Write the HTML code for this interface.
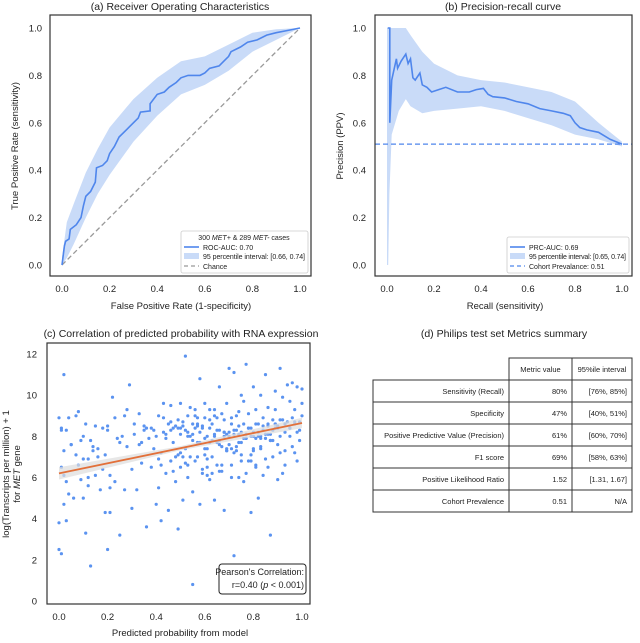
<!DOCTYPE html>
<html><head><meta charset="utf-8"><style>
body{margin:0;background:#fff;font-family:"Liberation Sans",sans-serif;}
svg text{font-family:"Liberation Sans",sans-serif;fill:#222;}
</style></head><body>
<svg id="fig" width="640" height="638" viewBox="0 0 640 638" xmlns="http://www.w3.org/2000/svg"></svg>
<script>
// ROC data
const rocFpr=[0,0.01,0.015,0.03,0.035,0.06,0.08,0.09,0.1,0.12,0.14,0.145,0.17,0.19,0.2,0.22,0.24,0.27,0.3,0.32,0.33,0.37,0.37,0.4,0.43,0.45,0.48,0.5,0.53,0.58,0.6,0.62,0.66,0.68,0.7,0.71,0.75,0.78,0.82,0.86,0.9,0.95,1];
const rocTpr=[0,0.08,0.1,0.11,0.15,0.17,0.2,0.25,0.29,0.31,0.35,0.41,0.42,0.44,0.47,0.5,0.54,0.57,0.6,0.62,0.645,0.65,0.68,0.72,0.73,0.75,0.77,0.79,0.8,0.8,0.81,0.83,0.84,0.86,0.88,0.9,0.92,0.94,0.95,0.97,0.98,0.99,1];
const rocBandX=[0,0.02,0.05,0.1,0.15,0.2,0.3,0.4,0.5,0.6,0.7,0.8,0.9,1];
const rocBandLo=[0,0.03,0.09,0.2,0.3,0.38,0.52,0.63,0.72,0.76,0.82,0.9,0.95,1];
const rocBandHi=[0.03,0.18,0.26,0.39,0.49,0.58,0.7,0.79,0.86,0.88,0.93,0.98,0.995,1];
// PR data
const prRecall=[0.003,0.012,0.012,0.02,0.04,0.045,0.06,0.08,0.09,0.1,0.11,0.12,0.14,0.15,0.17,0.19,0.22,0.25,0.3,0.35,0.38,0.41,0.43,0.45,0.5,0.55,0.6,0.65,0.7,0.75,0.78,0.8,0.82,0.85,0.9,0.95,1.0];
const prPrecision=[1.0,1.0,0.6,0.78,0.87,0.83,0.86,0.89,0.85,0.87,0.79,0.78,0.81,0.76,0.75,0.73,0.74,0.75,0.73,0.73,0.74,0.745,0.72,0.71,0.705,0.69,0.68,0.66,0.65,0.64,0.63,0.6,0.58,0.57,0.56,0.53,0.51];
const prBandX=[0,0.005,0.01,0.02,0.05,0.08,0.1,0.15,0.2,0.3,0.4,0.5,0.6,0.7,0.8,0.9,1.0];
const prBandLo=[0,0.0,0.3,0.55,0.65,0.7,0.67,0.64,0.65,0.66,0.67,0.65,0.62,0.59,0.55,0.53,0.5];
const prBandHi=[1,1,1,1,1,1,0.97,0.9,0.85,0.8,0.78,0.77,0.75,0.73,0.69,0.6,0.52];
const prevalence=0.51;
// scatter data
const scX=[0.0,0.0,0.0,0.01,0.01,0.01,0.02,0.02,0.02,0.02,0.03,0.03,0.04,0.04,0.05,0.06,0.07,0.08,0.09,0.09,0.1,0.1,0.11,0.11,0.12,0.12,0.13,0.14,0.15,0.15,0.16,0.17,0.18,0.19,0.19,0.2,0.2,0.21,0.21,0.22,0.23,0.24,0.25,0.26,0.27,0.28,0.29,0.3,0.3,0.31,0.32,0.33,0.33,0.34,0.35,0.36,0.37,0.38,0.38,0.39,0.4,0.4,0.41,0.41,0.42,0.42,0.43,0.44,0.44,0.45,0.45,0.46,0.46,0.47,0.47,0.48,0.48,0.49,0.49,0.5,0.5,0.5,0.51,0.51,0.52,0.52,0.53,0.53,0.54,0.54,0.55,0.55,0.55,0.56,0.56,0.57,0.57,0.58,0.58,0.59,0.59,0.6,0.6,0.6,0.61,0.61,0.62,0.62,0.63,0.63,0.64,0.64,0.65,0.65,0.66,0.66,0.67,0.67,0.68,0.68,0.69,0.69,0.7,0.7,0.7,0.71,0.71,0.72,0.72,0.73,0.73,0.74,0.74,0.75,0.75,0.76,0.76,0.77,0.77,0.78,0.78,0.79,0.79,0.8,0.8,0.8,0.81,0.81,0.82,0.82,0.83,0.83,0.84,0.84,0.85,0.85,0.86,0.86,0.87,0.87,0.88,0.88,0.89,0.89,0.9,0.9,0.9,0.91,0.91,0.92,0.92,0.93,0.93,0.94,0.95,0.95,0.96,0.96,0.97,0.97,0.98,0.98,0.99,0.99,1.0,1.0,0.53,0.57,0.64,0.72,0.79,0.46,0.5,0.55,0.61,0.68,0.75,0.83,0.35,0.43,0.58,0.66,0.74,0.81,0.89,0.97,0.08,0.13,0.27,0.52,0.56,0.71,0.12,0.2,0.21,0.42,0.51,0.62,0.69,0.77,0.86,
0.01,0.03,0.05,0.07,0.1,0.14,0.16,0.18,0.23,0.25,0.28,0.31,0.34,0.36,0.39,0.41,0.43,0.44,0.46,0.48,0.49,0.5,0.52,0.53,0.54,0.56,0.57,0.58,0.59,0.6,0.61,0.62,0.63,0.64,0.65,0.66,0.67,0.68,0.69,0.7,0.71,0.72,0.73,0.74,0.75,0.76,0.77,0.78,0.79,0.8,0.81,0.82,0.83,0.84,0.85,0.86,0.87,0.88,0.89,0.9,0.91,0.92,0.93,0.94,0.95,0.96,0.97,0.98,0.99,1.0,
0.47,0.49,0.51,0.53,0.55,0.57,0.59,0.61,0.63,0.65,0.67,0.69,0.71,0.73,0.75,0.77,0.79,0.81,0.83,0.85,0.87,0.89,0.91,0.93,0.95,0.6,0.62,0.64,0.66,0.68,0.7,0.72,0.74,0.76,0.78,0.8,0.82,0.84,0.86,0.88];
const scY=[2.5,3.8,8.9,6.5,8.4,2.3,11.0,7.3,4.7,6.1,3.9,8.3,5.2,8.9,7.6,5.0,7.1,9.2,5.9,7.8,5.0,8.0,8.6,3.3,6.9,5.6,1.7,7.5,8.5,6.1,7.0,5.4,8.4,4.3,7.1,8.5,2.5,6.1,4.3,9.9,5.8,7.9,3.2,8.0,9.0,7.5,10.5,6.4,4.5,8.6,5.4,9.1,7.6,6.7,8.3,3.6,7.9,8.4,6.5,7.4,8.0,4.7,5.5,9.0,7.2,3.9,9.6,6.2,8.1,8.6,4.4,6.8,9.5,7.7,6.3,8.5,5.8,3.5,7.1,8.4,6.5,9.6,8.7,4.9,7.4,11.9,8.2,6.0,9.4,7.0,0.8,8.1,5.3,9.3,6.8,8.6,7.7,4.7,10.8,8.4,6.2,9.6,7.4,8.9,6.5,8.0,9.3,5.9,8.6,7.0,9.0,4.9,8.3,6.6,10.4,7.8,9.1,6.3,8.2,4.4,9.6,7.4,11.3,8.0,0.4,8.6,6.6,11.1,2.2,9.0,7.3,8.5,6.0,10.0,7.7,9.7,5.8,11.5,8.1,6.8,9.1,4.3,8.4,10.4,7.3,8.0,6.5,9.3,5.0,8.6,7.5,10.0,6.1,8.9,7.9,11.0,6.5,9.4,8.1,3.2,8.8,7.0,10.2,9.3,5.9,8.5,7.6,11.3,8.8,6.2,9.9,7.3,8.6,10.5,8.0,9.7,7.5,10.6,8.7,9.3,10.4,6.8,8.3,7.8,10.3,9.6,8.0,8.5,9.3,7.2,6.8,8.7,7.2,7.8,6.1,8.2,7.1,8.0,8.5,8.9,7.7,6.3,9.2,7.9,8.4,7.2,6.6,7.8,5.4,6.7,9.0,7.4,6.0,8.3,5.5,6.6,7.0,8.8,7.3,6.2,8.1,8.3,5.8,7.6,9.0,6.9,7.3,
7.4,6.4,8.9,7.7,9.3,8.1,7.7,8.4,8.3,6.9,8.2,7.9,8.3,7.0,8.4,8.1,8.3,6.6,8.0,8.4,7.0,8.2,8.5,7.9,7.4,8.4,7.8,8.0,8.9,8.3,7.5,8.8,8.1,7.6,8.9,8.1,8.3,7.7,8.2,8.6,7.9,8.4,8.0,7.4,8.6,8.2,7.9,8.5,8.1,8.6,7.8,8.3,8.6,8.4,8.0,8.8,8.2,8.7,8.4,8.9,8.6,8.2,8.7,9.0,8.4,8.8,8.5,9.0,8.6,8.9,
6.4,6.9,6.2,7.7,6.6,7.3,6.0,7.5,6.8,7.9,7.1,6.6,7.4,6.9,7.8,8.6,7.2,6.6,8.4,7.1,7.7,8.1,7.6,8.0,8.2,8.3,8.1,7.9,8.4,8.2,8.0,8.3,8.5,7.8,8.6,8.3,8.4,8.7,8.5,8.8];
const regX=[0,1];
const regY=[6.2,8.65];
// table data
const tblMetrics=["Sensitivity (Recall)","Specificity","Positive Predictive Value (Precision)","F1 score","Positive Likelihood Ratio","Cohort Prevalence"];
const tblValues=["80%","47%","61%","69%","1.52","0.51"];
const tblIntervals=["[76%, 85%]","[40%, 51%]","[60%, 70%]","[58%, 63%]","[1.31, 1.67]","N/A"];

const NS="http://www.w3.org/2000/svg";
const svg=document.getElementById('fig');
function el(tag,attrs,parent,txt){const e=document.createElementNS(NS,tag);for(const k in attrs)e.setAttribute(k,attrs[k]);if(txt!==undefined)e.textContent=txt;(parent||svg).appendChild(e);return e;}
function lin(d0,d1,p0,p1){return v=>p0+(v-d0)*(p1-p0)/(d1-d0);}
function poly(xs,ys,sx,sy){return xs.map((v,i)=>sx(v).toFixed(1)+','+sy(ys[i]).toFixed(1)).join(' ');}
function bandPts(xs,lo,hi,sx,sy){let a=xs.map((v,i)=>sx(v).toFixed(1)+','+sy(hi[i]).toFixed(1));let b=xs.map((v,i)=>sx(v).toFixed(1)+','+sy(lo[i]).toFixed(1)).reverse();return a.concat(b).join(' ');}
const BLUE='#4f86ec',BAND='#c9dbf8';

function axesFrame(g,x0,y0,x1,y1){const r=el('rect',{x:x0,y:y0,width:x1-x0,height:y1-y0,fill:'none',stroke:'#333','stroke-width':1.2},g);}
function xTicks(g,vals,sx,y,fmt){vals.forEach(v=>{const t=el('text',{x:sx(v),y:y,'font-size':9.5,'text-anchor':'middle'},g,fmt(v));});}
function yTicks(g,vals,sy,x,fmt){vals.forEach(v=>{const t=el('text',{x:x,y:sy(v)+3.5,'font-size':9.5,'text-anchor':'end'},g,fmt(v));});}
const f1=v=>v.toFixed(1);
const ticks01=[0,0.2,0.4,0.6,0.8,1.0];

// Panel A
(function(){
const g=el('g',{});
const sx=lin(0,1,62,300),sy=lin(0,1,265,28);
const band=el('polygon',{points:bandPts(rocBandX,rocBandLo,rocBandHi,sx,sy),fill:BAND},g);
const ch=el('line',{x1:sx(0),y1:sy(0),x2:sx(1),y2:sy(1),stroke:'#999','stroke-width':1.3,'stroke-dasharray':'5,3'},g);
const c=el('polyline',{points:poly(rocFpr,rocTpr,sx,sy),fill:'none',stroke:BLUE,'stroke-width':1.6},g);
axesFrame(g,50,15,311,276);
xTicks(g,ticks01,sx,292,f1);yTicks(g,ticks01,sy,42,f1);
let t=el('text',{x:180,y:10,'font-size':10.5,'text-anchor':'middle'},g,'(a) Receiver Operating Characteristics');
t=el('text',{x:181,y:309,'font-size':9.5,'text-anchor':'middle'},g,'False Positive Rate (1-specificity)');
t=el('text',{x:0,y:0,'font-size':9.5,'text-anchor':'middle',transform:'translate(18,146) rotate(-90)'},g,'True Positive Rate (sensitivity)');
const lg=el('g',{},g);
el('rect',{x:181,y:231,width:127,height:42,fill:'#fff',stroke:'#ccc','stroke-width':0.8,rx:2},lg);
el('text',{x:244,y:240,'font-size':7,'text-anchor':'middle'},lg).innerHTML='300 <tspan font-style="italic">MET+</tspan> &amp; 289 <tspan font-style="italic">MET-</tspan> cases';
el('line',{x1:184,y1:247,x2:199,y2:247,stroke:BLUE,'stroke-width':1.6},lg);
el('text',{x:203,y:250,'font-size':7},lg,'ROC-AUC: 0.70');
el('rect',{x:184,y:253,width:15,height:6,fill:BAND},lg);
el('text',{x:203,y:259,'font-size':7,textLength:102},lg,'95 percentile interval: [0.66, 0.74]');
el('line',{x1:184,y1:266,x2:199,y2:266,stroke:'#999','stroke-width':1.3,'stroke-dasharray':'4,3'},lg);
el('text',{x:203,y:269,'font-size':7},lg,'Chance');
})();

// Panel B
(function(){
const g=el('g',{});
const sx=lin(0,1,387,622),sy=lin(0,1,265,28);
const band=el('polygon',{points:bandPts(prBandX,prBandLo,prBandHi,sx,sy),fill:BAND},g);
const pv=el('line',{x1:375,y1:sy(prevalence),x2:632,y2:sy(prevalence),stroke:BLUE,'stroke-width':1.3,'stroke-dasharray':'5,3'},g);
const c=el('polyline',{points:poly(prRecall,prPrecision,sx,sy),fill:'none',stroke:BLUE,'stroke-width':1.6},g);
axesFrame(g,375,15,632,276);
xTicks(g,ticks01,sx,292,f1);yTicks(g,ticks01,sy,366,f1);
let t=el('text',{x:503,y:10,'font-size':10.5,'text-anchor':'middle'},g,'(b) Precision-recall curve');
t=el('text',{x:505,y:309,'font-size':9.5,'text-anchor':'middle'},g,'Recall (sensitivity)');
t=el('text',{x:0,y:0,'font-size':9.5,'text-anchor':'middle',transform:'translate(343,146) rotate(-90)'},g,'Precision (PPV)');
const lg=el('g',{},g);
el('rect',{x:507,y:237,width:122,height:36,fill:'#fff',stroke:'#ccc','stroke-width':0.8,rx:2},lg);
el('line',{x1:510,y1:247,x2:525,y2:247,stroke:BLUE,'stroke-width':1.6},lg);
el('text',{x:529,y:250,'font-size':7},lg,'PRC-AUC: 0.69');
el('rect',{x:510,y:253,width:15,height:6,fill:BAND},lg);
el('text',{x:529,y:259,'font-size':7,textLength:97},lg,'95 percentile interval: [0.65, 0.74]');
el('line',{x1:510,y1:266,x2:525,y2:266,stroke:BLUE,'stroke-width':1.3,'stroke-dasharray':'4,3'},lg);
el('text',{x:529,y:269,'font-size':7},lg,'Cohort Prevalance: 0.51');
})();

// Panel C
(function(){
const g=el('g',{});
const sx=lin(0,1,59,302),sy=lin(0,12,601,354);
const pts=el('g',{},g);
scX.forEach((x,i)=>{const c=el('circle',{cx:sx(x).toFixed(1),cy:sy(scY[i]).toFixed(1),r:1.6,fill:'#5b93f0'},pts);});
const ci=el('polygon',{points:[sx(0)+','+sy(regY[0]+0.3),sx(0.5)+','+sy((regY[0]+regY[1])/2+0.1),sx(1)+','+sy(regY[1]+0.25),sx(1)+','+sy(regY[1]-0.25),sx(0.5)+','+sy((regY[0]+regY[1])/2-0.1),sx(0)+','+sy(regY[0]-0.3)].join(' '),fill:'#ddd',opacity:0.7},g);
const rl=el('line',{x1:sx(regX[0]),y1:sy(regY[0]),x2:sx(regX[1]),y2:sy(regY[1]),stroke:'#e2703a','stroke-width':1.8},g);
axesFrame(g,47,343,310,604);
xTicks(g,ticks01,sx,620,f1);yTicks(g,[0,2,4,6,8,10,12],sy,37,v=>String(v));
let t=el('text',{x:181,y:337,'font-size':10.5,'text-anchor':'middle'},g,'(c) Correlation of predicted probability with RNA expression');
t=el('text',{x:180,y:636,'font-size':9.5,'text-anchor':'middle'},g,'Predicted probability from model');
t=el('text',{x:0,y:0,'font-size':9.5,'text-anchor':'middle',transform:'translate(9,474) rotate(-90)'},g,'log(Transcripts per million) + 1');
t=el('text',{x:0,y:0,'font-size':9.5,'text-anchor':'middle',transform:'translate(20,474) rotate(-90)'},g);t.innerHTML='for <tspan font-style="italic">MET</tspan> gene';
const bx=el('g',{},g);
el('rect',{x:219,y:564,width:87,height:30,fill:'#fff',stroke:'#222','stroke-width':1,rx:3},bx);
el('text',{x:304,y:575,'font-size':9,'text-anchor':'end'},bx,"Pearson's Correlation:");
el('text',{x:304,y:588,'font-size':9,'text-anchor':'end'},bx).innerHTML='r=0.40 (<tspan font-style="italic">p</tspan> &lt; 0.001)';
})();

// Panel D
(function(){
const g=el('g',{});
let t=el('text',{x:504,y:337,'font-size':10.5,'text-anchor':'middle'},g,'(d) Philips test set Metrics summary');
const L=373,C1=509,C2=572,R=632,T=358,H=22;
const hdr=el('g',{},g);
el('rect',{x:C1,y:T,width:R-C1,height:H,fill:'#fff',stroke:'#333','stroke-width':1},hdr);
el('line',{x1:C2,y1:T,x2:C2,y2:T+H,stroke:'#333','stroke-width':1},hdr);
el('text',{x:(C1+C2)/2,y:T+14,'font-size':7.5,'text-anchor':'middle'},hdr,'Metric value');
el('text',{x:(C2+R)/2,y:T+14,'font-size':7.5,'text-anchor':'middle'},hdr,'95%ile interval');
tblMetrics.forEach((m,i)=>{const y=T+H*(i+1);
const row=el('g',{},g);
el('rect',{x:L,y:y,width:R-L,height:H,fill:'#fff',stroke:'#333','stroke-width':1},row);
el('line',{x1:C1,y1:y,x2:C1,y2:y+H,stroke:'#333','stroke-width':1},row);
el('line',{x1:C2,y1:y,x2:C2,y2:y+H,stroke:'#333','stroke-width':1},row);
el('text',{x:C1-5,y:y+14,'font-size':7.5,'text-anchor':'end'},row,m);
el('text',{x:C2-5,y:y+14,'font-size':7.5,'text-anchor':'end'},row,tblValues[i]);
el('text',{x:R-5,y:y+14,'font-size':7.5,'text-anchor':'end'},row,tblIntervals[i]);
});
})();
</script>
</body></html>
